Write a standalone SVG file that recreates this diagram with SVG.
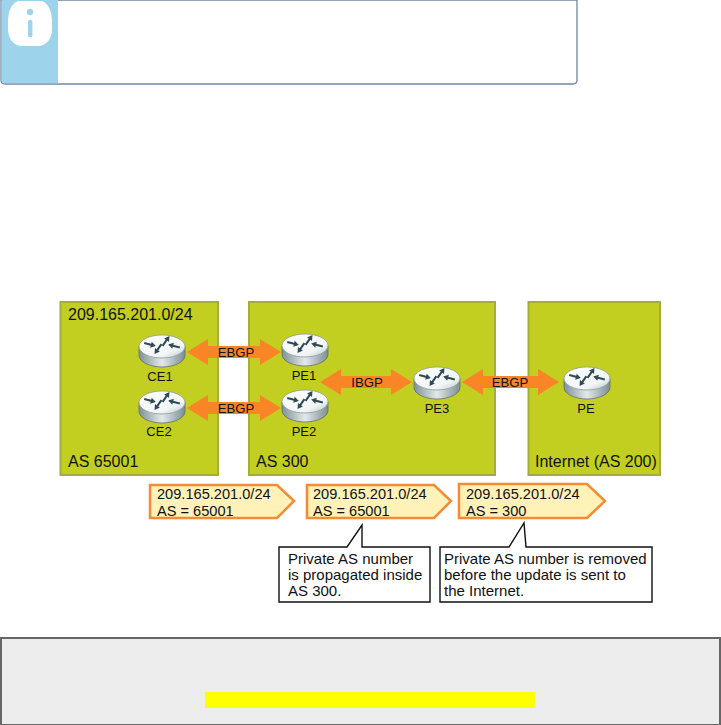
<svg xmlns="http://www.w3.org/2000/svg" width="721" height="725" viewBox="0 0 721 725">
<style>
text{font-family:"Liberation Sans",Arial,sans-serif;fill:#111}
.as{fill:#c2cf20;stroke:#a3ad3a;stroke-width:2}
.big{font-size:16px}
.tag{font-size:14.6px}
.note{font-size:15px}
.rl{font-size:13px;text-anchor:middle}
.bl{font-size:13.2px;text-anchor:middle}
.arrow{fill:#f98527}
.tagb{fill:#fff2b8;stroke:#f58b33;stroke-width:2.5}
.call{fill:#fff;stroke:#111;stroke-width:1.4}
.ar{fill:#2f4a55}
</style>
<defs>
<linearGradient id="side" x1="0" x2="1" y1="0" y2="0">
<stop offset="0" stop-color="#7f9296"/><stop offset=".5" stop-color="#e3e9ea"/><stop offset="1" stop-color="#7c8e92"/>
</linearGradient>
<linearGradient id="top" x1="0" x2="1" y1="0" y2="1">
<stop offset="0" stop-color="#ffffff"/><stop offset=".7" stop-color="#f2f5f5"/><stop offset="1" stop-color="#b4c2c6"/>
</linearGradient>
<path id="ra" d="M-6-1H1V-3L6 0 1 3V1H-6Z"/>
<symbol id="router" overflow="visible">
<path d="M-23 1.500V10.500C-23 17 -12 22 0 22S23 17 23 10.500V1.500Z" fill="url(#side)" stroke="#5f7075" stroke-width=".8"/>
<ellipse cx="0" cy="1.500" rx="23" ry="11.500" fill="url(#top)" stroke="#8b9a9e" stroke-width=".8"/>
<g class="ar">
<use href="#ra" transform="translate(-12 -.5) rotate(15)"/>
<use href="#ra" transform="translate(4 -4) rotate(-55)"/>
<use href="#ra" transform="translate(-4 4) rotate(125)"/>
<use href="#ra" transform="translate(12 1) rotate(195)"/>
</g>
</symbol>
</defs>
<g id="info-box">
<path d="M1 0V80Q1 84 5 84H573Q577 84 577 80V0Z" fill="#fff" stroke="#6f89a5" stroke-width="1.3"/>
<path d="M1.700 0V80Q1.700 83.300 5 83.300H58V0Z" fill="#9dd4ec"/>
<path d="M18 1H42C49 4 52 12 52 22V29C52 39 46 46 38 46H22C14 46 8 39 8 29V22C8 12 11 4 18 1Z" fill="#fff"/>
<circle cx="30" cy="12" r="3.2" fill="#9dd4ec"/>
<rect x="28" y="20" width="4.400" height="17" rx="1.500" fill="#9dd4ec"/>
</g>
<g id="as65001"><rect class="as" x="60.500" y="302" width="157.500" height="173"/><text class="big" x="68" y="320">209.165.201.0/24</text><text class="big" x="68" y="467">AS 65001</text></g>
<g id="as300"><rect class="as" x="249" y="302" width="246" height="173"/><text class="big" x="256" y="467">AS 300</text></g>
<g id="as200"><rect class="as" x="528.500" y="302" width="131.500" height="173"/><text class="big" x="535" y="467">Internet (AS 200)</text></g>
<g id="connectors">
<path class="arrow" d="M187 352 208 339V346H260V339L281 352 260 365V358H208V365Z"/>
<path class="arrow" d="M187 408 208 395V402H260V395L281 408 260 421V414H208V421Z"/>
<path class="arrow" d="M320 382 341 369V376H391V369L412 382 391 395V388H341V395Z"/>
<path class="arrow" d="M462 382 483 369V376H538V369L559 382 538 395V388H483V395Z"/>
<text class="bl" x="236" y="357">EBGP</text>
<text class="bl" x="236" y="413">EBGP</text>
<text class="bl" x="367" y="387">IBGP</text>
<text class="bl" x="510" y="387">EBGP</text>
</g>
<g id="CE1"><use href="#router" x="162" y="345"/><text class="rl" x="160" y="381">CE1</text></g>
<g id="CE2"><use href="#router" x="162" y="401"/><text class="rl" x="159" y="436">CE2</text></g>
<g id="PE1"><use href="#router" x="305" y="344"/><text class="rl" x="304" y="380">PE1</text></g>
<g id="PE2"><use href="#router" x="305" y="400"/><text class="rl" x="304" y="436">PE2</text></g>
<g id="PE3"><use href="#router" x="437" y="377"/><text class="rl" x="437" y="413">PE3</text></g>
<g id="PE"><use href="#router" x="587" y="377"/><text class="rl" x="586" y="413">PE</text></g>
<g id="tag1"><path class="tagb" d="M150 485H277L294 501 277 518H150Z"/><text class="tag" x="157" y="499">209.165.201.0/24<tspan x="157" dy="16.8">AS = 65001</tspan></text></g>
<g id="tag2"><path class="tagb" d="M307 485H434L451 501 434 518H307Z"/><text class="tag" x="313" y="499">209.165.201.0/24<tspan x="313" dy="16.8">AS = 65001</tspan></text></g>
<g id="tag3"><path class="tagb" d="M459 484H587L605 501 587 518H459Z" stroke-width="3"/><text class="tag" x="466" y="499">209.165.201.0/24<tspan x="466" dy="16.8">AS = 300</tspan></text></g>
<g id="note1"><path class="call" d="M279 547H347L362 525V547H430V602H279Z"/><text class="note" x="288" y="564">Private AS number<tspan x="288" dy="16">is propagated inside</tspan><tspan x="288" dy="16">AS 300.</tspan></text></g>
<g id="note2"><path class="call" d="M440 547H509L524 523 526 547H652V602H440Z"/><text class="note" x="444" y="564">Private AS number is removed<tspan x="444" dy="16">before the update is sent to</tspan><tspan x="444" dy="16">the Internet.</tspan></text></g>
<g id="footer"><rect x="1" y="638" width="719" height="87" fill="#ededed" stroke="#666" stroke-width="2"/><rect x="205" y="692" width="330" height="16" fill="#ff0"/></g>
</svg>
